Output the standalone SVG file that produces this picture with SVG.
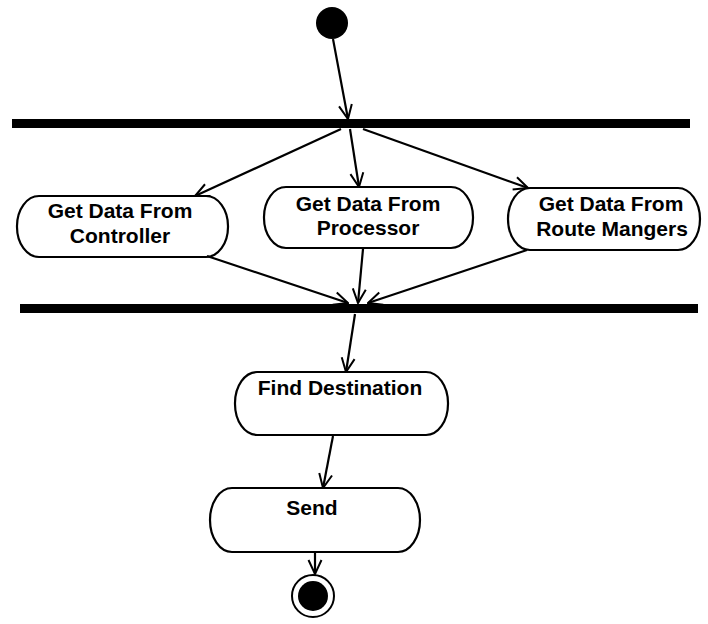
<svg xmlns="http://www.w3.org/2000/svg" width="708" height="624" viewBox="0 0 708 624">
  <defs>
    <marker id="open-arrow" viewBox="0 0 16 16" refX="15" refY="8" markerWidth="16" markerHeight="16" markerUnits="userSpaceOnUse" orient="auto">
      <path d="M1,1.5 L15,8 L1,14.5" fill="none" stroke="#000" stroke-width="2"/>
    </marker>
  </defs>
  <style>
    .bar { fill: #000; }
    .activity { fill: #fff; stroke: #000; stroke-width: 2.2; }
    .label { font-family: "Liberation Sans", Arial, sans-serif; font-weight: bold; font-size: 21px; fill: #000; text-anchor: middle; }
    .flow { fill: none; stroke: #000; stroke-width: 2.2; marker-end: url(#open-arrow); }
  </style>
  <rect width="708" height="624" fill="#fff"/>

  <!-- start -->
  <g id="start">
    <circle cx="332" cy="23" r="16" fill="#000"/>
  </g>

  <!-- fork / join bars -->
  <g id="fork">
    <rect class="bar" x="12" y="119" width="678" height="9"/>
  </g>
  <g id="join">
    <rect class="bar" x="20" y="304" width="678" height="9"/>
  </g>

  <!-- activities -->
  <g id="get-controller">
    <rect class="activity" x="17" y="196" width="211" height="61" rx="22" ry="30"/>
    <text class="label" x="120" y="218">Get Data From</text>
    <text class="label" x="120" y="243">Controller</text>
  </g>
  <g id="get-processor">
    <rect class="activity" x="264" y="187" width="209" height="61" rx="22" ry="30"/>
    <text class="label" x="368" y="211">Get Data From</text>
    <text class="label" x="368" y="235">Processor</text>
  </g>
  <g id="get-route-managers">
    <rect class="activity" x="508" y="188" width="192" height="62" rx="22" ry="31"/>
    <text class="label" x="611" y="211">Get Data From</text>
    <text class="label" x="612" y="236">Route Mangers</text>
  </g>
  <g id="find-destination">
    <rect class="activity" x="235" y="372" width="213" height="63" rx="22" ry="31"/>
    <text class="label" x="340" y="395">Find Destination</text>
  </g>
  <g id="send">
    <rect class="activity" x="210" y="488" width="210" height="64" rx="22" ry="32"/>
    <text class="label" x="312" y="515">Send</text>
  </g>

  <!-- end -->
  <g id="end">
    <circle cx="313" cy="596" r="21" fill="#fff" stroke="#000" stroke-width="2"/>
    <circle cx="313" cy="596" r="15" fill="#000"/>
  </g>

  <!-- control flows -->
  <g id="connectors">
    <line class="flow" x1="333" y1="39" x2="348" y2="119"/>
    <line class="flow" x1="341" y1="129" x2="195" y2="196"/>
    <line class="flow" x1="350" y1="129" x2="359" y2="187"/>
    <line class="flow" x1="363" y1="129" x2="528" y2="188"/>
    <line class="flow" x1="207" y1="256" x2="348" y2="303"/>
    <line class="flow" x1="363" y1="249" x2="358" y2="303"/>
    <line class="flow" x1="527" y1="250" x2="368" y2="303"/>
    <line class="flow" x1="355" y1="314" x2="346" y2="372"/>
    <line class="flow" x1="333" y1="436" x2="323" y2="488"/>
    <line class="flow" x1="315" y1="553" x2="315" y2="574"/>
  </g>
</svg>
